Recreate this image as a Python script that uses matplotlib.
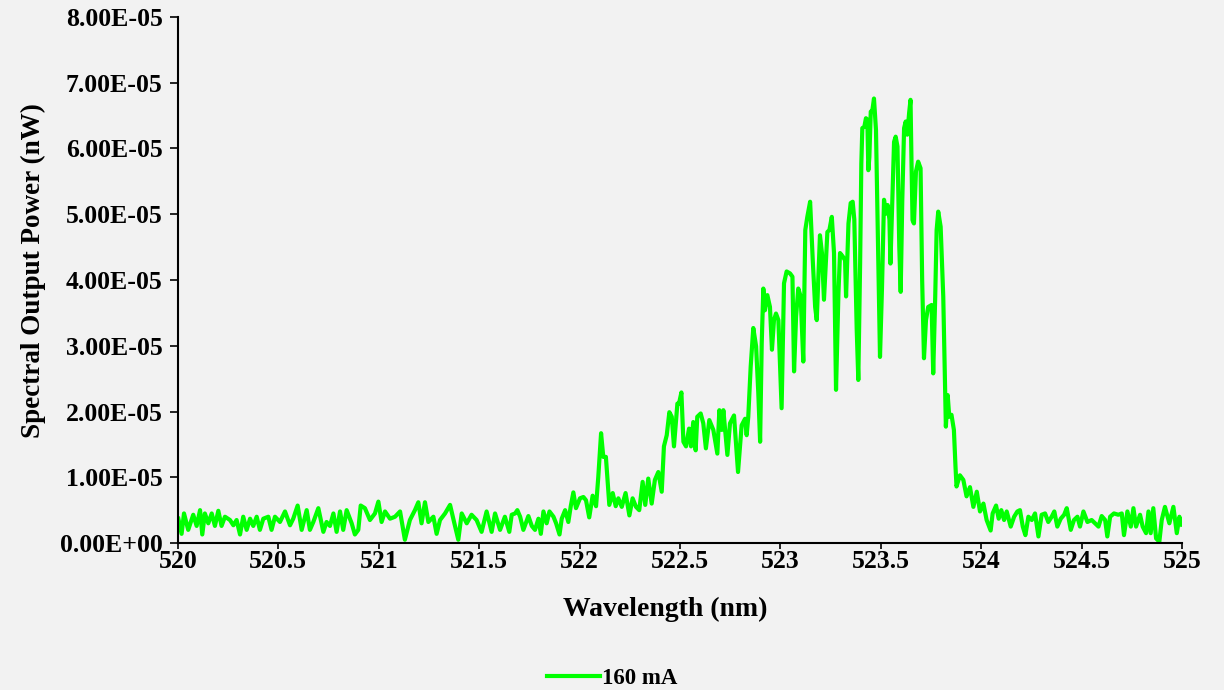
import matplotlib
matplotlib.use("Agg")
import matplotlib.pyplot as plt
from matplotlib.ticker import FuncFormatter, MultipleLocator

# Spectrum at 160 mA
# wavelength in nm, power in units of 1e-5 nW
wavelength_nm = [
    520.002, 520.018, 520.03, 520.051, 520.076, 520.093, 520.11, 520.121, 520.134, 520.151,
    520.168, 520.184, 520.201, 520.217, 520.234, 520.259, 520.276, 520.292, 520.309, 520.325,
    520.342, 520.359, 520.375, 520.392, 520.408, 520.425, 520.45, 520.466, 520.483, 520.508,
    520.533, 520.558, 520.574, 520.596, 520.616, 520.641, 520.657, 520.674, 520.699, 520.724,
    520.74, 520.757, 520.774, 520.79, 520.807, 520.823, 520.84, 520.865, 520.881, 520.898,
    520.91, 520.931, 520.956, 520.981, 520.998, 521.014, 521.031, 521.056, 521.081, 521.106,
    521.13, 521.155, 521.18, 521.197, 521.213, 521.23, 521.247, 521.272, 521.288, 521.305,
    521.33, 521.355, 521.371, 521.396, 521.413, 521.438, 521.462, 521.487, 521.512, 521.537,
    521.562, 521.579, 521.604, 521.628,
    521.65, 521.662, 521.679, 521.69, 521.704, 521.72, 521.745, 521.762, 521.778, 521.795,
    521.807, 521.82, 521.836, 521.85, 521.87, 521.883, 521.9, 521.911, 521.928, 521.944,
    521.956, 521.969, 521.982,
    522.002, 522.019, 522.032, 522.048, 522.065, 522.082, 522.093, 522.107, 522.118, 522.131,
    522.148, 522.165, 522.18, 522.193, 522.21, 522.229, 522.248, 522.264, 522.281, 522.297,
    522.314, 522.327, 522.342, 522.359, 522.375, 522.392, 522.409, 522.42, 522.434, 522.447,
    522.459, 522.47, 522.487, 522.495, 522.507, 522.517, 522.53, 522.545, 522.555, 522.566,
    522.578, 522.586, 522.603, 522.616, 522.629, 522.646, 522.666, 522.686, 522.696, 522.708,
    522.716, 522.736, 522.749, 522.769, 522.789, 522.807, 522.824, 522.832,
    522.84, 522.852, 522.865, 522.879, 522.89, 522.899, 522.907, 522.915, 522.923, 522.935,
    522.948, 522.958, 522.968, 522.978, 522.99, 523.006, 523.018, 523.031, 523.048, 523.06,
    523.068, 523.078, 523.089, 523.101, 523.114, 523.124, 523.134, 523.148, 523.161, 523.173,
    523.181, 523.197, 523.207, 523.217, 523.234, 523.244, 523.256, 523.267, 523.277, 523.289,
    523.297,
    523.31, 523.322, 523.327, 523.339, 523.35, 523.36, 523.368, 523.38, 523.388, 523.397,
    523.403, 523.408, 523.418, 523.426, 523.433, 523.438, 523.443, 523.45, 523.458, 523.466,
    523.476, 523.485, 523.496, 523.506, 523.516, 523.526, 523.534, 523.543, 523.548, 523.558,
    523.566, 523.574, 523.583, 523.592, 523.599, 523.607, 523.616, 523.624, 523.632, 523.641,
    523.648, 523.653, 523.658, 523.665, 523.675, 523.686, 523.698, 523.706, 523.715, 523.725,
    523.736, 523.753, 523.761, 523.771, 523.778, 523.786, 523.798, 523.811, 523.824, 523.833,
    523.841, 523.852, 523.864, 523.872, 523.877, 523.894, 523.911, 523.927,
    523.944, 523.961, 523.978, 523.994, 524.011, 524.027, 524.047, 524.057, 524.074, 524.087,
    524.1, 524.114, 524.127, 524.147, 524.164, 524.18, 524.193, 524.207, 524.22, 524.235,
    524.252, 524.268, 524.285, 524.301, 524.318, 524.334, 524.351, 524.364, 524.379, 524.396,
    524.413, 524.426, 524.446, 524.462, 524.479, 524.492, 524.509, 524.529, 524.55, 524.567,
    524.584, 524.6, 524.617, 524.628, 524.642, 524.661, 524.683, 524.7, 524.711, 524.728,
    524.745, 524.758, 524.771, 524.791, 524.804, 524.821, 524.833, 524.844, 524.857, 524.871,
    524.887, 524.899, 524.915, 524.937, 524.957, 524.974, 524.987, 524.999,
]
power_e5 = [
    0.37, 0.14, 0.45, 0.2, 0.43, 0.26, 0.5, 0.13, 0.45, 0.3,
    0.45, 0.26, 0.49, 0.26, 0.4, 0.35, 0.27, 0.35, 0.13, 0.4,
    0.2, 0.37, 0.26, 0.4, 0.2, 0.37, 0.4, 0.2, 0.4, 0.32,
    0.48, 0.27, 0.37, 0.57, 0.2, 0.5, 0.2, 0.32, 0.53, 0.17,
    0.32, 0.26, 0.45, 0.17, 0.48, 0.2, 0.5, 0.3, 0.13, 0.2,
    0.57, 0.53, 0.35, 0.45, 0.63, 0.32, 0.48, 0.37, 0.4, 0.48,
    0.05, 0.35, 0.5, 0.62, 0.3, 0.62, 0.32, 0.4, 0.14, 0.35,
    0.45, 0.58, 0.37, 0.05, 0.45, 0.3, 0.43, 0.35, 0.17, 0.48,
    0.17, 0.45, 0.2, 0.4,
    0.17, 0.43, 0.45, 0.5, 0.4, 0.2, 0.41, 0.26, 0.2, 0.37,
    0.14, 0.48, 0.3, 0.48, 0.4, 0.3, 0.13, 0.37, 0.5, 0.32,
    0.56, 0.77, 0.53,
    0.68, 0.70, 0.65, 0.39, 0.72, 0.56, 1.0, 1.67, 1.31, 1.31,
    0.58, 0.76, 0.56, 0.68, 0.55, 0.76, 0.42, 0.68, 0.55, 0.50,
    0.93, 0.58, 0.98, 0.60, 0.96, 1.08, 0.78, 1.47, 1.64, 1.99,
    1.92, 1.47, 2.12, 2.12, 2.29, 1.54, 1.47, 1.74, 1.47, 1.84,
    1.41, 1.92, 1.97, 1.82, 1.44, 1.87, 1.72, 1.36, 2.02, 1.72,
    2.02, 1.34, 1.82, 1.94, 1.08, 1.79, 1.89, 1.64,
    1.92, 2.68, 3.27, 2.99, 2.28, 1.54, 3.04, 3.87, 3.54, 3.77,
    3.59, 2.94, 3.39, 3.49, 3.39, 2.05, 3.95, 4.13, 4.10, 4.05,
    2.61, 3.44, 3.87, 3.75, 2.76, 4.76, 4.96, 5.19, 4.31, 3.59,
    3.39, 4.68, 4.41, 3.70, 4.73, 4.76, 4.96, 4.41, 2.33, 3.80,
    4.41,
    4.36, 4.30, 3.75, 4.86, 5.17, 5.19, 4.92, 3.25, 2.48, 4.25,
    5.77, 6.31, 6.33, 6.46, 6.44, 5.67, 5.87, 6.56, 6.58, 6.76,
    6.28, 4.76, 2.83, 3.89, 5.22, 5.01, 5.14, 4.92, 4.25, 5.27,
    6.10, 6.18, 6.03, 4.51, 3.82, 5.22, 6.31, 6.41, 6.21, 6.54,
    6.74, 5.77, 4.91, 4.86, 5.65, 5.80, 5.70, 3.99, 2.81, 3.39,
    3.59, 3.62, 2.58, 3.75, 4.76, 5.04, 4.81, 3.75, 1.77, 2.25,
    1.92, 1.95, 1.72, 1.16, 0.86, 1.03, 0.96, 0.71,
    0.85, 0.55, 0.78, 0.48, 0.6, 0.35, 0.19, 0.45, 0.57, 0.37,
    0.5, 0.35, 0.48, 0.25, 0.4, 0.48, 0.5, 0.25, 0.12, 0.4,
    0.35, 0.45, 0.10, 0.43, 0.45, 0.32, 0.4, 0.48, 0.25, 0.37,
    0.43, 0.53, 0.2, 0.35, 0.4, 0.25, 0.48, 0.32, 0.35, 0.3,
    0.25, 0.41, 0.35, 0.10, 0.4, 0.45, 0.43, 0.45, 0.12, 0.48,
    0.25, 0.53, 0.25, 0.43, 0.25, 0.15, 0.48, 0.15, 0.53, 0.07,
    0.02, 0.35, 0.55, 0.3, 0.55, 0.15, 0.4, 0.28,
]
series_label = "160 mA"

bg = "#F2F2F2"
plt.rcParams["font.family"] = ["Liberation Serif", "DejaVu Serif"]
plt.rcParams["font.weight"] = "bold"

fig = plt.figure(figsize=(12.24, 6.9), dpi=100, facecolor=bg)
ax = fig.add_axes([0.1454, 0.213, 0.8203, 0.7624], facecolor=bg)

power = [p * 1e-5 for p in power_e5]
ax.plot(wavelength_nm, power, color="#00FF00", linewidth=3.0, label=series_label)

ax.set_xlim(520, 525)
ax.set_ylim(0, 8e-5)
ax.xaxis.set_major_locator(MultipleLocator(0.5))
ax.yaxis.set_major_locator(MultipleLocator(1e-5))
ax.xaxis.set_major_formatter(FuncFormatter(lambda v, p: f"{v:g}"))
ax.yaxis.set_major_formatter(FuncFormatter(lambda v, p: f"{v:.2E}"))

for s in ["top", "right"]:
    ax.spines[s].set_visible(False)
for s in ["left", "bottom"]:
    ax.spines[s].set_linewidth(1.5)
ax.tick_params(axis="x", direction="out", length=4, width=1.2, labelsize=18.5, pad=1)
ax.tick_params(axis="y", direction="out", length=6, width=1.2, labelsize=18.5, pad=5)
for lbl in ax.get_xticklabels() + ax.get_yticklabels():
    lbl.set_fontweight("bold")

ax.set_xlabel("Wavelength (nm)", fontsize=20, fontweight="bold")
ax.set_ylabel("Spectral Output Power (nW)", fontsize=19.5, fontweight="bold")
ax.xaxis.set_label_coords(0.485, -0.103)
ax.yaxis.set_label_coords(-0.131, 0.517)

fig.legend(loc="center", bbox_to_anchor=(0.5, 1 - 678 / 690), frameon=False,
           prop={"size": 16.5, "weight": "bold"}, handlelength=2.3, handletextpad=0.1)

fig.savefig("out.png", dpi=100, facecolor=bg)
